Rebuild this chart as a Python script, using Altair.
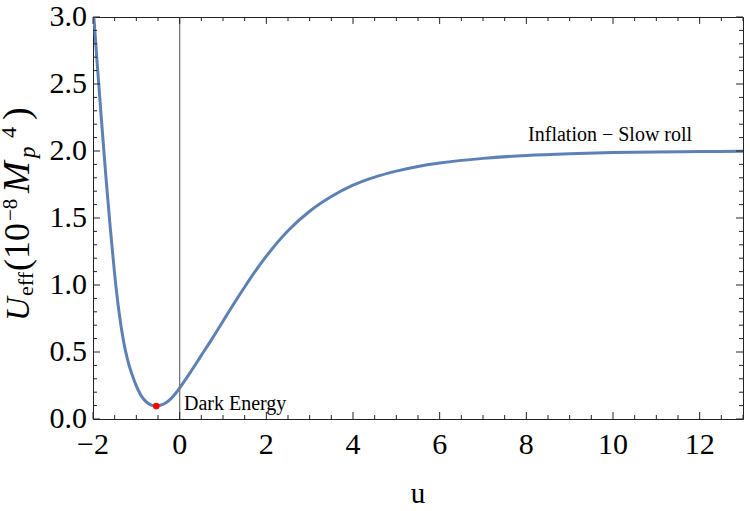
import altair as alt
import pandas as pd

# ---- data ----
u_vals = [-2.0, -1.9, -1.8, -1.7, -1.6, -1.5, -1.4, -1.3, -1.2, -1.1, -1.0, -0.9, -0.8, -0.7,
          -0.6, -0.5, -0.4, -0.3, -0.2, -0.1, 0.0, 0.25, 0.5, 0.75, 1.0, 1.25, 1.5,
          1.75, 2.0, 2.5, 3.0, 3.5, 4.0, 4.5, 5.0, 5.5, 6.0, 7.0, 8.0, 9.0, 10.0, 11.0, 12.0, 13.0]
U_vals = [3.09, 2.64, 2.21, 1.80, 1.42, 1.08, 0.80, 0.59, 0.44, 0.333, 0.247, 0.18, 0.137, 0.111,
          0.099, 0.099, 0.108, 0.125, 0.152, 0.188, 0.232, 0.35, 0.475, 0.60, 0.73, 0.86, 0.985,
          1.105, 1.215, 1.405, 1.55, 1.66, 1.745, 1.805, 1.85, 1.885, 1.91, 1.945, 1.967, 1.98,
          1.988, 1.993, 1.996, 1.998]
min_u = [-0.54]
min_U = [0.097]
ann_text = ["Dark Energy", "Inflation \u2212 Slow roll"]
ann_u = [0.1, 8.04]
ann_U = [0.067, 2.077]
x_major = [-2, 0, 2, 4, 6, 8, 10, 12]
x_minor = [v / 2 for v in range(-4, 27) if v % 4 != 0]
y_major = [0.0, 0.5, 1.0, 1.5, 2.0, 2.5, 3.0]
y_minor = [v / 10 for v in range(0, 31) if v % 5 != 0]
x_title = "u"

W, H = 650, 402
FONT = "Liberation Serif"
FRAME = "#222222"
CURVE = "#5E81B5"

xs = alt.Scale(domain=[-2, 13], nice=False, zero=False)
ys = alt.Scale(domain=[0, 3], nice=False, zero=False)

curve_df = pd.DataFrame({"u": u_vals, "U": U_vals})
dot_df = pd.DataFrame({"u": min_u, "U": min_U})
ann_df = pd.DataFrame({"u": ann_u, "U": ann_U, "t": ann_text})
xmaj_df = pd.DataFrame({"t": x_major})
xmin_df = pd.DataFrame({"t": x_minor})
ymaj_df = pd.DataFrame({"t": y_major})
ymin_df = pd.DataFrame({"t": y_minor})
zero_df = pd.DataFrame({"u": [0]})
one = pd.DataFrame({"k": [0]})

X = lambda f: alt.X(f, scale=xs, axis=None)
Y = lambda f: alt.Y(f, scale=ys, axis=None)

curve = alt.Chart(curve_df).mark_line(color=CURVE, strokeWidth=3, interpolate="monotone",
                                      clip=True).encode(x=X("u:Q"), y=Y("U:Q"))

vline = alt.Chart(zero_df).mark_rule(color="#777777", strokeWidth=1.3).encode(x=X("u:Q"))

dot = alt.Chart(dot_df).mark_circle(color="#ff0000", opacity=1, size=45).encode(
    x=X("u:Q"), y=Y("U:Q"))

ann = alt.Chart(ann_df).mark_text(font=FONT, fontSize=20, align="left", baseline="alphabetic",
                                  color="black").encode(x=X("u:Q"), y=Y("U:Q"), text="t:N")

def xticks(df, L):
    b = alt.Chart(df).mark_rule(color=FRAME, strokeWidth=1)
    return [
        b.encode(x=X("t:Q"), y=alt.value(H), y2=alt.value(H - L)),
        b.encode(x=X("t:Q"), y=alt.value(0), y2=alt.value(L)),
    ]

def yticks(df, L):
    b = alt.Chart(df).mark_rule(color=FRAME, strokeWidth=1)
    return [
        b.encode(y=Y("t:Q"), x=alt.value(0), x2=alt.value(L)),
        b.encode(y=Y("t:Q"), x=alt.value(W), x2=alt.value(W - L)),
    ]

ticks = xticks(xmaj_df, 7) + xticks(xmin_df, 4) + yticks(ymaj_df, 7) + yticks(ymin_df, 4)

# tick labels placed through the scales
xlabels = alt.Chart(xmaj_df).mark_text(font=FONT, fontSize=30, align="center", baseline="top",
                                       color="black").encode(
    x=X("t:Q"), y=alt.value(H + 11), text=alt.Text("t:Q", format="d"))
ylabels = alt.Chart(ymaj_df).mark_text(font=FONT, fontSize=30, align="right", baseline="middle",
                                       color="black").encode(
    y=Y("t:Q"), x=alt.value(-6), text=alt.Text("t:Q", format=".1f"))
xtitle = alt.Chart(one).mark_text(font=FONT, fontSize=29, align="center", baseline="alphabetic",
                                  color="black").encode(
    x=alt.value(W / 2), y=alt.value(486), text=alt.value(x_title))

# y-axis title pieces: U_eff(10^-8 M_p^4), rotated
def piece(txt, x, y, size, style="normal"):
    return alt.Chart(one).mark_text(font=FONT, fontSize=size, fontStyle=style, angle=270,
                                    align="left", baseline="alphabetic", color="black").encode(
        x=alt.value(x), y=alt.value(y), text=alt.value(txt))

ox, oy = 93, 17
title_parts = [
    piece("U", 29 - ox, 321 - oy, 33, "italic"),
    piece("eff", 33 - ox, 296 - oy, 22),
    piece("(10", 29 - ox, 271 - oy, 36),
    piece("\u22128", 17 - ox, 221 - oy, 21),
    piece("M", 29 - ox, 193 - oy, 38, "italic"),
    piece("p", 35 - ox, 158 - oy, 23, "italic"),
    piece("4", 16 - ox, 138 - oy, 22),
    piece(")", 29 - ox, 120 - oy, 38),
]

chart = alt.layer(curve, vline, dot, ann, *ticks, xlabels, ylabels, xtitle,
                  *title_parts).properties(
    width=W, height=H,
    autosize=alt.AutoSizeParams(type="none"),
    padding={"left": 93, "top": 17, "right": 7, "bottom": 92},
    background="white",
).configure_view(stroke=FRAME, strokeWidth=1)

chart.save("out.html", embed_options={"renderer": "svg", "actions": False})
